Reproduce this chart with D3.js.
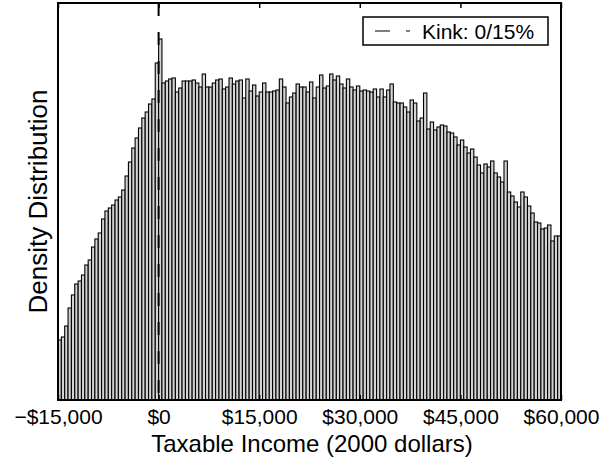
<!DOCTYPE html>
<html>
<head>
<meta charset="utf-8">
<script src="https://cdn.jsdelivr.net/npm/d3@7"></script>
<style>
    body { margin: 0; background: #fff; }
    text { font-family: "Liberation Sans", Arial, sans-serif; fill: #000; }
</style>
</head>
<body>
<script>
//histogram bins: $500 wide, starting at -$15,000
var binStart = -15000,
    binWidth = 500;

//bar heights (density, arbitrary units)
var density = [
    60, 63, 74, 92, 105, 116, 119, 125, 135, 140, 153, 161, 167, 181, 189, 192, 195, 200, 203, 210,
    224, 238, 252, 262, 272, 282, 288, 296, 301, 337,
    361, 317, 319, 321, 322, 308, 312, 319, 319, 319, 320, 317, 313, 326, 313, 313, 317, 320, 321, 311,
    313, 322, 316, 319, 320, 302, 321, 309, 315, 304,
    308, 317, 308, 308, 309, 310, 321, 313, 297, 303, 307, 316, 313, 313, 308, 318, 302, 313, 325, 312,
    314, 326, 320, 324, 316, 312, 321, 313, 310, 314,
    309, 310, 309, 308, 311, 303, 311, 303, 310, 316, 298, 297,
    297, 293, 288, 300, 297, 279, 282, 307, 271, 278, 270, 273, 275, 274, 268, 267, 263, 255, 260, 253,
    247, 251, 243, 235, 227, 236, 233, 239, 227, 223, 218, 239, 208, 204, 198, 193, 208, 203, 194, 187,
    178, 177, 171, 172, 175, 159, 164, 164
];

//tick values on the income axis
var xTicks = [-15000, 0, 15000, 30000, 45000, 60000];

//kink location and legend label
var kinkAt = 0,
    legendLabel = "Kink: 0/15%";

window.onload = drawChart;

function drawChart() {
    var width = 604,
        height = 469;

    var margin = {top: 3, right: 43, bottom: 69, left: 58};

    var svg = d3.select("body")
        .append("svg")
        .attr("width", width)
        .attr("height", height);

    var x = d3.scaleLinear()
        .domain([xTicks[0], xTicks[xTicks.length - 1]])
        .range([margin.left, width - margin.right]);

    var y = d3.scaleLinear()
        .domain([0, 397])
        .range([height - margin.bottom, margin.top]);

    var bins = density.map(function(d, i) {
        return {x0: binStart + i * binWidth, x1: binStart + (i + 1) * binWidth, v: d};
    });

    //bars
    svg.append("g")
        .selectAll("rect")
        .data(bins)
        .enter()
        .append("rect")
        .attr("x", function(d) { return x(d.x0); })
        .attr("y", function(d) { return y(d.v); })
        .attr("width", function(d) { return x(d.x1) - x(d.x0); })
        .attr("height", function(d) { return y(0) - y(d.v); })
        .attr("fill", "#d4d4d4")
        .attr("stroke", "#000")
        .attr("stroke-width", 1.1);

    //dashed kink line
    svg.append("line")
        .attr("x1", x(kinkAt)).attr("x2", x(kinkAt))
        .attr("y1", y.range()[1]).attr("y2", y.range()[0])
        .attr("stroke", "#000")
        .attr("stroke-width", 2)
        .attr("stroke-dasharray", "13,16");

    //bottom axis, ticks point inward
    var xAxis = d3.axisBottom(x)
        .tickValues(xTicks)
        .tickSizeInner(-5)
        .tickSizeOuter(0)
        .tickPadding(9)
        .tickFormat(d3.format("$,.0f"));

    var gx = svg.append("g")
        .attr("transform", "translate(0," + y(0) + ")")
        .call(xAxis);
    gx.select(".domain").remove();
    gx.selectAll("line").attr("stroke", "#000").attr("stroke-width", 1.5);
    gx.selectAll("text")
        .style("font-size", "21px");

    //top axis mirror ticks
    var gt = svg.append("g")
        .attr("transform", "translate(0," + margin.top + ")")
        .call(d3.axisTop(x).tickValues(xTicks).tickSizeInner(-5).tickSizeOuter(0).tickFormat(""));
    gt.select(".domain").remove();
    gt.selectAll("line").attr("stroke", "#000").attr("stroke-width", 1.5);

    //plot frame
    svg.append("rect")
        .attr("x", x.range()[0])
        .attr("y", y.range()[1])
        .attr("width", x.range()[1] - x.range()[0])
        .attr("height", y.range()[0] - y.range()[1])
        .attr("fill", "none")
        .attr("stroke", "#000")
        .attr("stroke-width", 2);

    //axis titles
    svg.append("text")
        .attr("x", 312)
        .attr("y", 452)
        .attr("text-anchor", "middle")
        .style("font-size", "24px")
        .text("Taxable Income (2000 dollars)");

    svg.append("text")
        .attr("transform", "translate(47," + (y.range()[0] + y.range()[1]) / 2 + ") rotate(-90)")
        .attr("text-anchor", "middle")
        .style("font-size", "26px")
        .text("Density Distribution");

    //legend
    var lg = svg.append("g").attr("transform", "translate(363,17)");
    lg.append("rect")
        .attr("width", 185).attr("height", 28)
        .attr("fill", "#fff")
        .attr("stroke", "#000")
        .attr("stroke-width", 1.5);
    lg.append("line")
        .attr("x1", 12).attr("x2", 47)
        .attr("y1", 14).attr("y2", 14)
        .attr("stroke", "#000")
        .attr("stroke-width", 1.2)
        .attr("stroke-dasharray", "15,16");
    lg.append("text")
        .attr("x", 59).attr("y", 22)
        .style("font-size", "21px")
        .text(legendLabel);
}
</script>
</body>
</html>
